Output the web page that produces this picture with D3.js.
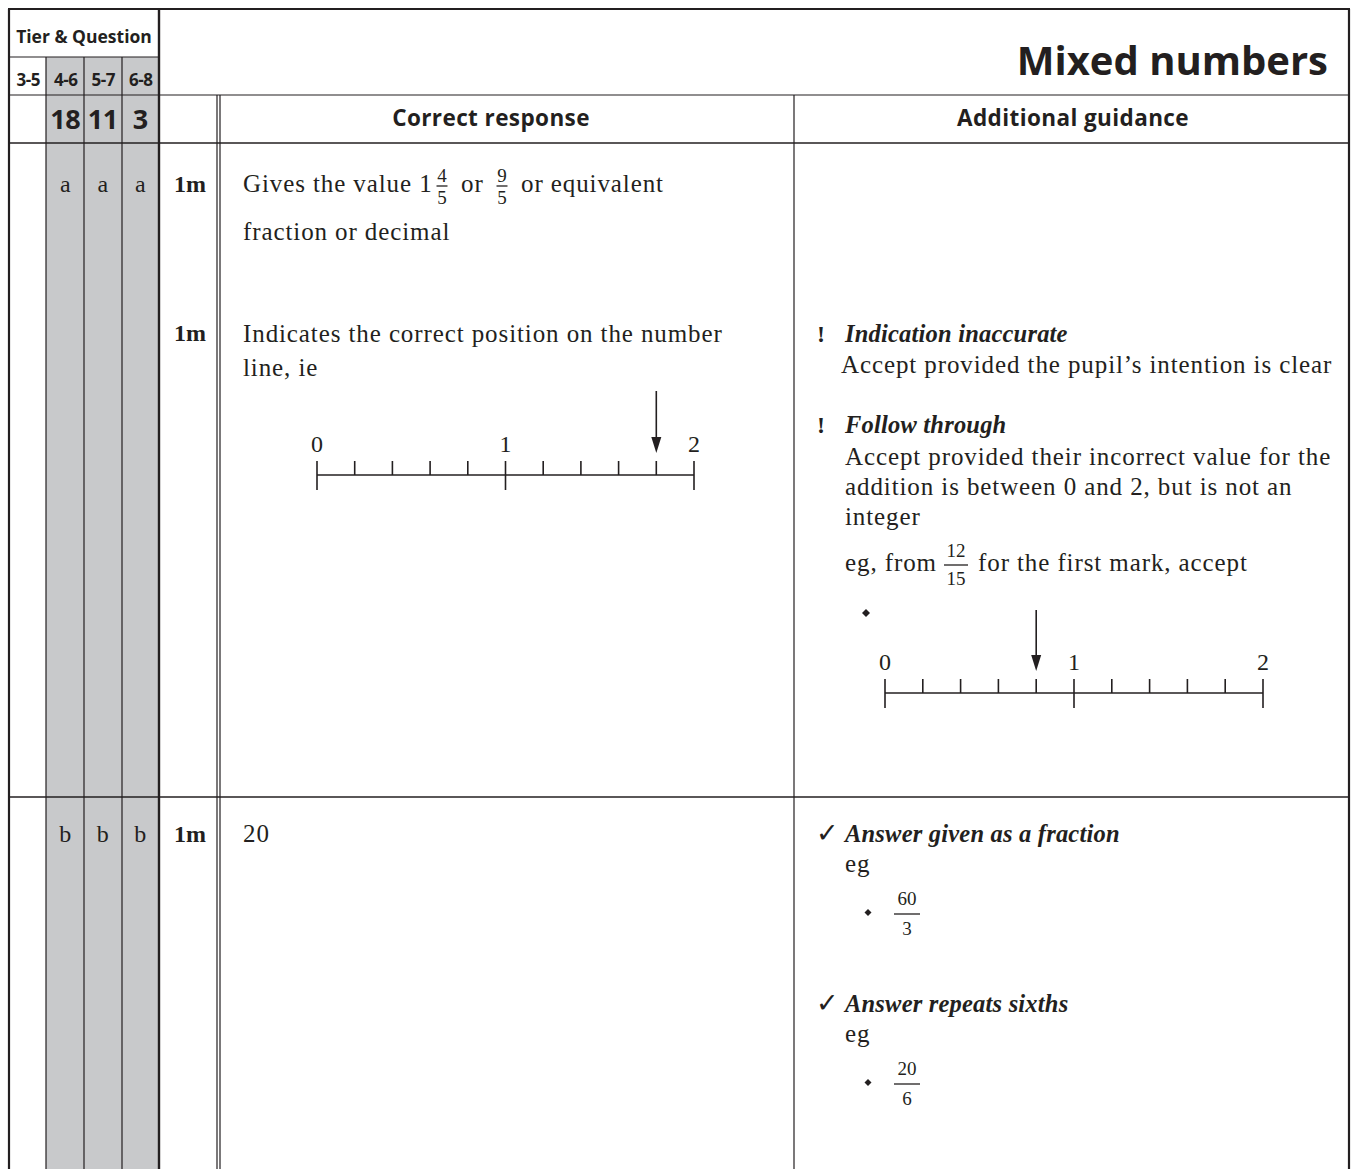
<!DOCTYPE html>
<meta charset="utf-8">
<style>
body { margin: 0; background: #fff; }
.grid line { stroke: #231f20; }
.sans { font-family: "Open Sans", "Noto Sans", sans-serif; font-weight: bold; fill: #231f20; }
.serif { font-family: "Liberation Serif", "DejaVu Serif", serif; fill: #231f20; white-space: pre; }
.body { letter-spacing: 0.9px; }
.head { font-style: italic; font-weight: bold; letter-spacing: 0.2px; }
.nl line { stroke: #231f20; stroke-width: 1.6px; }
</style>
<body>
<svg width=1358 height=1169></svg>
</body>
<script src="https://d3js.org/d3.v7.min.js"></script>
<script>
// --- content ---
const title = "Mixed numbers"
const tiers = ["3-5", "4-6", "5-7", "6-8"]
const questionNumbers = ["", "18", "11", "3"]
const parts = ["a", "b"]
const columnHeads = ["Correct response", "Additional guidance"]
const markLabels = ["1m", "1m", "1m"]
const lineLabels = [0, 1, 2]
const answerValue = 1.8      // 1 4/5
const followValue = 0.8      // 12/15
const guidanceA1 = ["Indication inaccurate", "Accept provided the pupil\u2019s intention is clear"]
const guidanceA2 = ["Follow through", "Accept provided their incorrect value for the",
  "addition is between 0 and 2, but is not an", "integer"]
const guidanceB = [
  {head: "Answer given as a fraction", num: "60", den: "3"},
  {head: "Answer repeats sixths", num: "20", den: "6"}
]

// --- layout ---
const X = {left: 9, t1: 46, t2: 84, t3: 122, tier: 159, mark: 217, dbl: 220, resp: 794, right: 1349}
const Y = {top: 9, tierHead: 57, tierRow: 95, head: 143, rowA: 797, bottom: 1169}
const ink = "#231f20"
const fs = 25

const svg = d3.select("svg")

// grey tier columns
svg.append("rect")
  .attr("x", X.t1).attr("y", Y.tierHead)
  .attr("width", X.tier - X.t1).attr("height", Y.bottom - Y.tierHead)
  .attr("fill", "#c8c9cb")

const grid = svg.append("g").attr("class", "grid")
const hline = (y, x1, x2, w) => grid.append("line").attr("x1", x1).attr("x2", x2).attr("y1", y).attr("y2", y).attr("stroke-width", w || 1.2)
const vline = (x, y1, y2, w) => grid.append("line").attr("x1", x).attr("x2", x).attr("y1", y1).attr("y2", y2).attr("stroke-width", w || 1.2)

hline(Y.top, X.left - 1, X.right + 1, 2.2)
vline(X.left, Y.top, Y.bottom, 2.2)
vline(X.right, Y.top, Y.bottom, 2.2)
hline(Y.tierHead, X.left, X.tier)
;[X.t1, X.t2, X.t3].forEach(x => vline(x, Y.tierHead, Y.bottom))
vline(X.tier, Y.top, Y.bottom, 2.4)
hline(Y.tierRow, X.left, X.right)
hline(Y.head, X.left, X.right, 1.6)
vline(X.mark, Y.tierRow, Y.bottom)
vline(X.dbl, Y.tierRow, Y.bottom)
vline(X.resp, Y.tierRow, Y.bottom)
hline(Y.rowA, X.left, X.right, 1.4)

// --- header ---
const tierCols = d3.scaleBand().domain(tiers).range([X.left, X.tier])

svg.append("text").attr("class", "sans")
  .attr("x", (X.left + X.tier) / 2).attr("y", 43)
  .attr("text-anchor", "middle").attr("font-size", 17.5)
  .text("Tier & Question")

svg.append("g").selectAll("text").data(tiers).join("text")
  .attr("class", "sans")
  .attr("x", d => tierCols(d) + tierCols.bandwidth() / 2 + 0.5).attr("y", 86)
  .attr("text-anchor", "middle").attr("font-size", 17)
  .attr("letter-spacing", -0.4)
  .text(d => d)

svg.append("g").selectAll("text").data(questionNumbers).join("text")
  .attr("class", "sans")
  .attr("x", (d, i) => tierCols(tiers[i]) + tierCols.bandwidth() / 2).attr("y", 129)
  .attr("text-anchor", "middle").attr("font-size", 27)
  .attr("letter-spacing", -0.5)
  .text(d => d)

svg.append("text").attr("class", "sans")
  .attr("x", 1328).attr("y", 75)
  .attr("text-anchor", "end").attr("font-size", 40)
  .text(title)

svg.append("g").selectAll("text").data(columnHeads).join("text")
  .attr("class", "sans")
  .attr("x", (d, i) => i === 0 ? 491 : 1073)
  .attr("y", 126)
  .attr("text-anchor", "middle").attr("font-size", 22.5)
  .attr("letter-spacing", 0.4)
  .text(d => d)

// --- part letters and marks ---
const partY = [192, 842]
parts.forEach((p, r) => {
  svg.append("g").selectAll("text").data(tiers.slice(1)).join("text")
    .attr("class", "serif")
    .attr("x", d => tierCols(d) + tierCols.bandwidth() / 2).attr("y", partY[r])
    .attr("text-anchor", "middle").attr("font-size", 24)
    .text(p)
})

const markY = [192, 341, 842]
svg.append("g").selectAll("text").data(markLabels).join("text")
  .attr("class", "serif")
  .attr("x", 190).attr("y", (d, i) => markY[i])
  .attr("text-anchor", "middle").attr("font-size", 24).attr("font-weight", "bold")
  .text(d => d)

// --- helpers ---
function seg(g, x, y, str, cls, size) {
  return g.append("text").attr("class", "serif " + (cls || "body"))
    .attr("x", x).attr("y", y).attr("font-size", size || fs).text(str)
}

function frac(g, cx, base, num, den, size, opt) {
  const o = Object.assign({n: -10, bar: -5, d: 13, w: 12}, opt || {})
  g.append("text").attr("class", "serif").attr("x", cx).attr("y", base + o.n)
    .attr("text-anchor", "middle").attr("font-size", size).text(num)
  g.append("text").attr("class", "serif").attr("x", cx).attr("y", base + o.d)
    .attr("text-anchor", "middle").attr("font-size", size).text(den)
  g.append("line").attr("x1", cx - o.w / 2).attr("x2", cx + o.w / 2)
    .attr("y1", base + o.bar).attr("y2", base + o.bar)
    .attr("stroke", ink).attr("stroke-width", 1.3)
}

function numberLine(g, range, base, value, arrowTop) {
  const x = d3.scaleLinear().domain([0, 2]).range(range)
  const nl = g.append("g").attr("class", "nl")
  nl.append("line").attr("x1", x(0)).attr("x2", x(2)).attr("y1", base).attr("y2", base)
  nl.selectAll(".tick").data(x.ticks(10)).join("line")
    .attr("class", "tick")
    .attr("x1", d => x(d)).attr("x2", d => x(d))
    .attr("y1", base - 14)
    .attr("y2", d => lineLabels.includes(d) ? base + 15 : base)
  nl.selectAll(".lab").data(lineLabels).join("text")
    .attr("class", "lab serif")
    .attr("x", d => x(d)).attr("y", base - 23)
    .attr("text-anchor", "middle").attr("font-size", 24)
    .text(d => d)
  const ax = x(value), tip = base - 22
  nl.append("line").attr("x1", ax).attr("x2", ax).attr("y1", arrowTop).attr("y2", tip - 10)
  nl.append("path")
    .attr("d", `M${ax - 5},${tip - 16}L${ax + 5},${tip - 16}L${ax},${tip}Z`)
    .attr("fill", ink)
}

// --- correct response column ---
const cr = svg.append("g")
seg(cr, 243, 192, "Gives the value 1")
frac(cr, 442, 192, "4", "5", 19, {n: -10, bar: -6, d: 12, w: 11})
seg(cr, 461, 192, "or")
frac(cr, 502, 192, "9", "5", 19, {n: -10, bar: -6, d: 12, w: 11})
seg(cr, 521, 192, "or equivalent")
seg(cr, 243, 240, "fraction or decimal")

seg(cr, 243, 342, "Indicates the correct position on the number")
seg(cr, 243, 376, "line, ie")
numberLine(cr, [317, 694], 475, answerValue, 391)

seg(cr, 243, 842, "20")

// --- additional guidance column ---
const ag = svg.append("g")
const bang = (y) => seg(ag, 817, y, "!", "", 24).attr("font-weight", "bold")
bang(342)
seg(ag, 845, 342, guidanceA1[0], "head", 24.5)
seg(ag, 841, 373, guidanceA1[1])

bang(433)
seg(ag, 845, 433, guidanceA2[0], "head", 24.5)
guidanceA2.slice(1).forEach((s, i) => seg(ag, 845, 465 + i * 30, s))

seg(ag, 845, 571, "eg, from")
frac(ag, 956, 571, "12", "15", 19, {n: -14, bar: -6, d: 14, w: 24})
seg(ag, 978, 571, "for the first mark, accept")

ag.append("path").attr("d", "M866,609l4,4l-4,4l-4,-4z").attr("fill", ink)
numberLine(ag, [885, 1263], 693, followValue, 610)

guidanceB.forEach((d, i) => {
  const base = 842 + i * 170
  ag.append("text").attr("x", 816).attr("y", base)
    .attr("font-family", "DejaVu Sans").attr("font-weight", "bold")
    .attr("font-size", 27).attr("fill", ink)
    .text("\u2713")
  seg(ag, 845, base, d.head, "head", 24.5)
  seg(ag, 845, base + 30, "eg")
  ag.append("path").attr("d", `M868,${base + 67}l3.5,3.5l-3.5,3.5l-3.5,-3.5z`).attr("fill", ink)
  frac(ag, 907, base + 75, d.num, d.den, 19, {n: -12, bar: -3, d: 18, w: 26})
})
</script>
